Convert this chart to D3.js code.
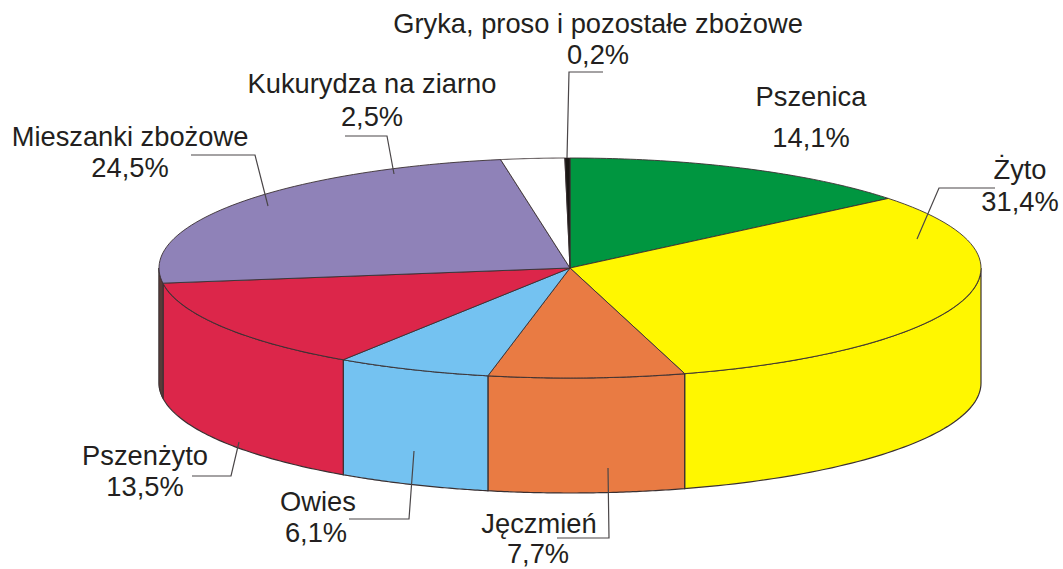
<!DOCTYPE html>
<html><head><meta charset="utf-8">
<script src="https://cdnjs.cloudflare.com/ajax/libs/d3/7.8.5/d3.min.js"></script>
<style>html,body{margin:0;padding:0;background:#fff}svg{display:block}text{font-family:"Liberation Sans",Arial,sans-serif;font-size:27.3px;fill:#231f20;text-anchor:middle}</style>
</head><body><svg id="c" width="1063" height="569"></svg>
<script>
const categories=["Pszenica","Żyto","Jęczmień","Owies","Pszenżyto","Mieszanki zbożowe","Kukurydza na ziarno","Gryka, proso i pozostałe zbożowe"];
const values=[14.1,31.4,7.7,6.1,13.5,24.5,2.5,0.2];
const valueLabels=["14,1%","31,4%","7,7%","6,1%","13,5%","24,5%","2,5%","0,2%"];
const colors=["#009640","#fff700","#e97b43","#74c2f1","#dc264a","#8f82b8","#ffffff","#1a1714"];
// label placement: [centre x, name baseline, value centre x, value baseline]
const labelPos=[[811,106,811,147],[1020,179,1020,211],[539,533,538,563],[318,511,316,542],[145,465,145,496],[130,146,130,177],[372,93,372,126],[598,33,598,64]];
const leaders=[null,[[917,239],[939,188],[995,188]],[[608,468],[609,538],[557,538]],[[414,451],[409,519],[349,519]],[[239,442],[231,476],[192,476]],[[268,206],[255,155],[191,155]],[[394,174],[387,136],[345,136]],[[567,158],[569,72],[603,72]]];

const cx=570,cy=268,rx=411,ry=110,depth=115;
const X=d3.scaleLinear().domain([-1,1]).range([cx-rx,cx+rx]);
const Y=d3.scaleLinear().domain([-1,1]).range([cy-ry,cy+ry]);
const svg=d3.select("#c");
const arcs=d3.pie().sort(null).startAngle(0).endAngle(2*Math.PI)(values);
const pt=(a,dy=0)=>[X(Math.sin(a)),Y(-Math.cos(a))+dy];
const samples=(a0,a1)=>d3.range(0,61).map(i=>a0+(a1-a0)*i/60);
const line=d3.line();
const QUARTER=Math.PI/2, FRONT_END=3*Math.PI/2;

// side wall: only the part of each slice that faces the viewer
const sides=svg.append("g");
arcs.forEach((d,i)=>{
  const a0=Math.max(d.startAngle,QUARTER),a1=Math.min(d.endAngle,FRONT_END);
  if(a1<=a0)return;
  const s=samples(a0,a1);
  sides.append("path")
    .attr("d",line(s.map(a=>pt(a)).concat(s.slice().reverse().map(a=>pt(a,depth))))+"Z")
    .attr("fill",colors[i]).attr("stroke","#3a3032").attr("stroke-width",1.2);
});
// shadowed sliver where the rear slice wraps past the left extreme
const sl=arcs[5], ss=samples(sl.startAngle,FRONT_END);
sides.append("path")
  .attr("d",line(ss.map(a=>pt(a)).concat(ss.slice().reverse().map(a=>pt(a,depth))))+"Z")
  .attr("fill","#5a3a38").attr("stroke","#3a3032").attr("stroke-width",0.7);

// top surface
svg.append("g").selectAll("path").data(arcs).join("path")
  .attr("d",(d)=>line([[cx,cy]].concat(samples(d.startAngle,d.endAngle).map(a=>pt(a))))+"Z")
  .attr("fill",(d,i)=>colors[i]).attr("stroke","#3a3032").attr("stroke-width",0.9);

// leader lines
svg.append("g").selectAll("path").data(leaders.filter(Boolean)).join("path")
  .attr("d",d=>line(d)).attr("fill","none").attr("stroke","#4a4648").attr("stroke-width",1.2);

// labels
const g=svg.append("g");
categories.forEach((c,i)=>{
  const p=labelPos[i];
  g.append("text").attr("x",p[0]).attr("y",p[1]).text(c);
  g.append("text").attr("x",p[2]).attr("y",p[3]).text(valueLabels[i]);
});
</script></body></html>
